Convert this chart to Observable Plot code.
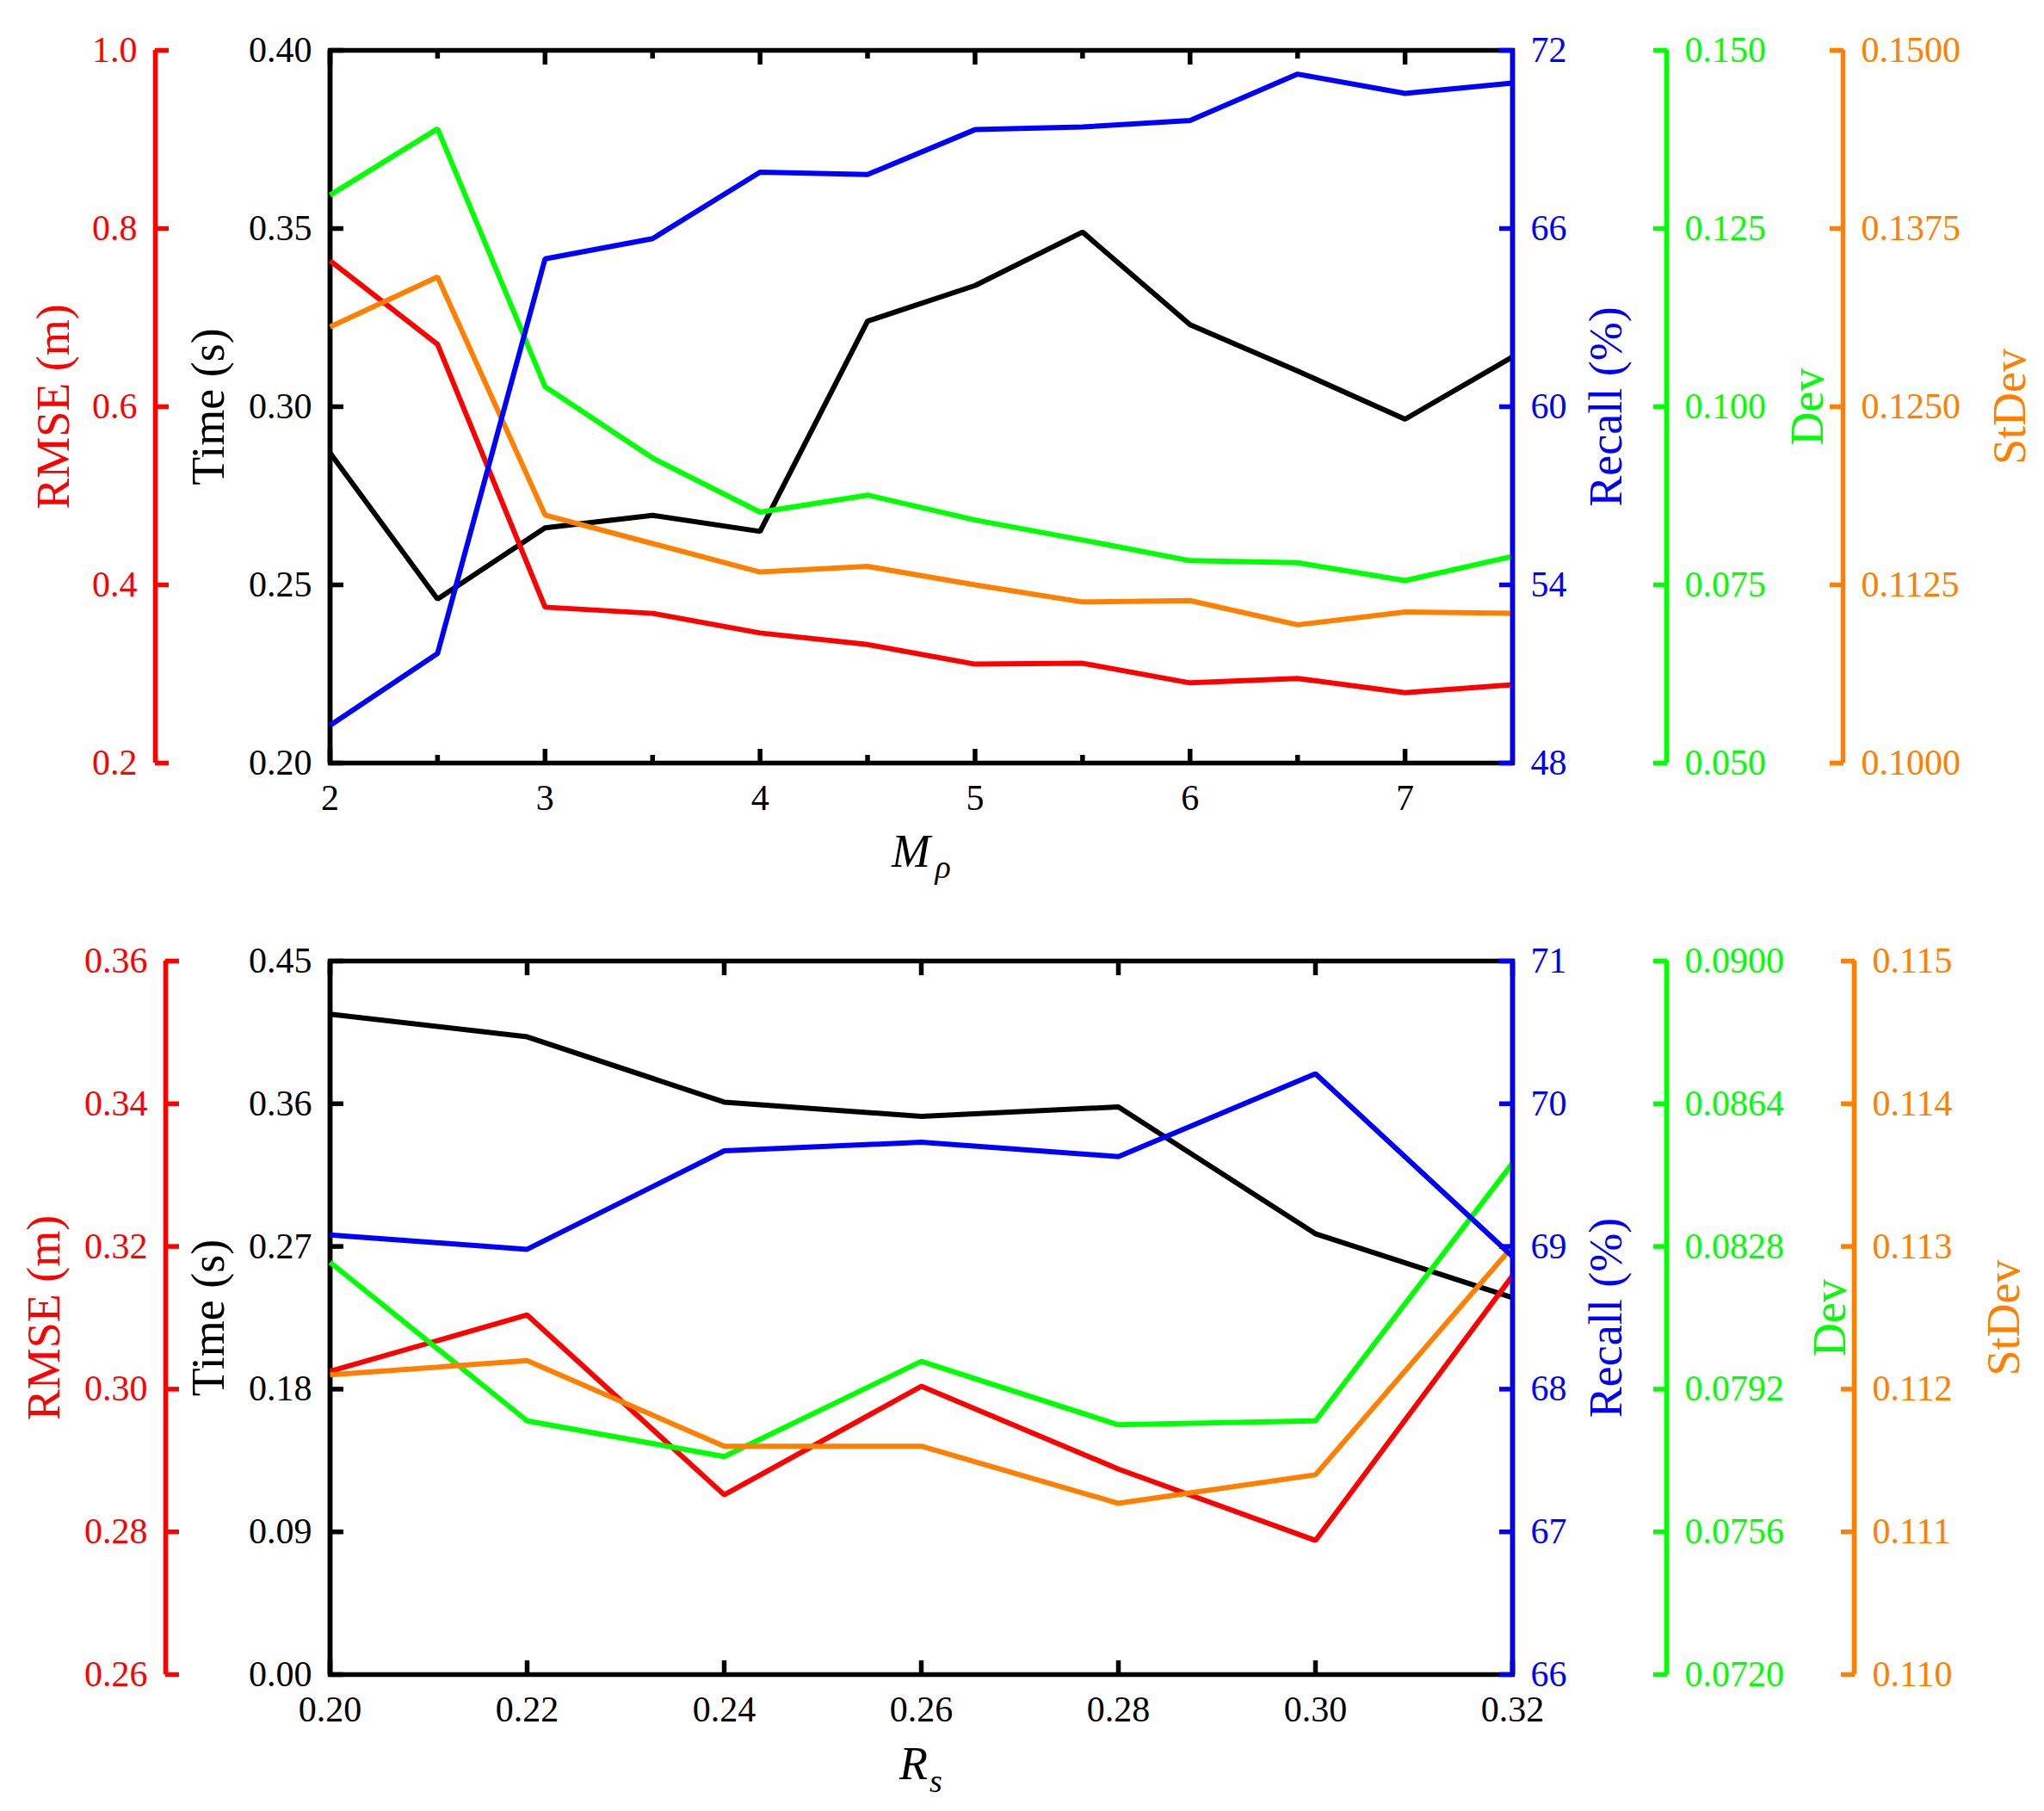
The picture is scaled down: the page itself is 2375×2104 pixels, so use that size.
<!DOCTYPE html>
<html><head><meta charset="utf-8">
<script src="https://cdn.jsdelivr.net/npm/d3@7"></script>
<script src="https://cdn.jsdelivr.net/npm/@observablehq/plot@0.6"></script>
<style>
html,body{margin:0;padding:0;background:#fff;}
#chart{position:relative;width:2375px;height:2104px;background:#fff;}
#chart svg{position:absolute;left:0;}
#chart svg text{font-family:'Liberation Serif','Times New Roman',serif !important;font-variant:normal !important;}
</style></head><body><div id="chart"></div>
<script>
// ---------- Top panel data (x = M_rho) ----------
const mRho      = [2, 2.5, 3, 3.5, 4, 4.5, 5, 5.5, 6, 6.5, 7, 7.5];
const timeTop   = [0.287, 0.246, 0.266, 0.2695, 0.265, 0.324, 0.334, 0.349, 0.323, 0.310, 0.2965, 0.314];
const rmseTop   = [0.764, 0.670, 0.375, 0.368, 0.346, 0.333, 0.311, 0.312, 0.290, 0.295, 0.279, 0.288];
const recallTop = [49.27, 51.69, 64.98, 65.66, 67.90, 67.82, 69.33, 69.42, 69.64, 71.20, 70.55, 70.90];
const devTop    = [0.1297, 0.1390, 0.1028, 0.0928, 0.0852, 0.0876, 0.0841, 0.0813, 0.0784, 0.0781, 0.0756, 0.0790];
const stdevTop  = [0.1306, 0.1341, 0.1174, 0.1154, 0.1134, 0.1138, 0.1125, 0.1113, 0.1114, 0.1097, 0.1106, 0.1105];

// ---------- Bottom panel data (x = R_s) ----------
const rs        = [0.20, 0.22, 0.24, 0.26, 0.28, 0.30, 0.32];
const timeBot   = [0.4165, 0.4022, 0.361, 0.352, 0.358, 0.278, 0.2377];
const rmseBot   = [0.3025, 0.3104, 0.2852, 0.3004, 0.2888, 0.2788, 0.3159];
const recallBot = [69.08, 68.98, 69.67, 69.73, 69.63, 70.21, 68.93];
const devBot    = [0.0824, 0.0784, 0.0775, 0.0799, 0.0783, 0.0784, 0.0849];
const stdevBot  = [0.1121, 0.1122, 0.1116, 0.1116, 0.1112, 0.1114, 0.1130];

// ---------- Ticks ----------
const topXTicks      = [2, 3, 4, 5, 6, 7];
const topXMinor      = [2.5, 3.5, 4.5, 5.5, 6.5];
const topTimeTicks   = [0.20, 0.25, 0.30, 0.35, 0.40];
const topRmseTicks   = [0.2, 0.4, 0.6, 0.8, 1.0];
const topRecallTicks = [48, 54, 60, 66, 72];
const topDevTicks    = [0.050, 0.075, 0.100, 0.125, 0.150];
const topStdevTicks  = [0.1000, 0.1125, 0.1250, 0.1375, 0.1500];

const botXTicks      = [0.20, 0.22, 0.24, 0.26, 0.28, 0.30, 0.32];
const botTimeTicks   = [0.00, 0.09, 0.18, 0.27, 0.36, 0.45];
const botRmseTicks   = [0.26, 0.28, 0.30, 0.32, 0.34, 0.36];
const botRecallTicks = [66, 67, 68, 69, 70, 71];
const botDevTicks    = [0.0720, 0.0756, 0.0792, 0.0828, 0.0864, 0.0900];
const botStdevTicks  = [0.110, 0.111, 0.112, 0.113, 0.114, 0.115];

// ---------- Styling / layout ----------
const W = 2375, H = 1052;
const FONT = "Liberation Serif";
const SW = 5.5, LW = 6, TICK = 16, MINOR = 9, TICKFS = 42, TITLEFS = 54, PAD = 21;
const ML = 383, MR = W - 1757;
const COL = {rmse: "#ff0000", time: "#000000", recall: "#0000ff", dev: "#00ff00", stdev: "#ff8000"};

const panels = [
  {
    top: 0, mt: 58, mb: 166,
    x: mRho, xDomain: [2, 7.5], xTicks: topXTicks, xMinor: topXMinor, xFmt: d3.format("d"),
    xTitle: ["M", "ρ"], xTitlePos: {main: [-12, 103], sub: [25, 121]},
    series: [
      {key: "time",   title: "Time (s)",   vals: timeTop,   domain: [0.20, 0.40], ticks: topTimeTicks,   fmt: d3.format(".2f"), side: "left",  axisDx: 0,    titleDx: -141},
      {key: "rmse",   title: "RMSE (m)",   vals: rmseTop,   domain: [0.2, 1.0],   ticks: topRmseTicks,   fmt: d3.format(".1f"), side: "left",  axisDx: -203, titleDx: -321},
      {key: "dev",    title: "Dev",        vals: devTop,    domain: [0.05, 0.15], ticks: topDevTicks,    fmt: d3.format(".3f"), side: "right", axisDx: 179,  titleDx: 343},
      {key: "stdev",  title: "StDev",      vals: stdevTop,  domain: [0.10, 0.15], ticks: topStdevTicks,  fmt: d3.format(".4f"), side: "right", axisDx: 384,  titleDx: 578},
      {key: "recall", title: "Recall (%)", vals: recallTop, domain: [48, 72],     ticks: topRecallTicks, fmt: d3.format("d"),   side: "right", axisDx: 0,    titleDx: 109}
    ]
  },
  {
    top: 1052, mt: 64, mb: 159,
    x: rs, xDomain: [0.20, 0.32], xTicks: botXTicks, xMinor: [], xFmt: d3.format(".2f"),
    xTitle: ["R", "s"], xTitlePos: {main: [-9, 104], sub: [17, 124]},
    series: [
      {key: "time",   title: "Time (s)",   vals: timeBot,   domain: [0, 0.45],        ticks: botTimeTicks,   fmt: d3.format(".2f"), side: "left",  axisDx: 0,    titleDx: -141},
      {key: "rmse",   title: "RMSE (m)",   vals: rmseBot,   domain: [0.26, 0.36],     ticks: botRmseTicks,   fmt: d3.format(".2f"), side: "left",  axisDx: -191, titleDx: -332},
      {key: "dev",    title: "Dev",        vals: devBot,    domain: [0.072, 0.090],   ticks: botDevTicks,    fmt: d3.format(".4f"), side: "right", axisDx: 179,  titleDx: 369},
      {key: "stdev",  title: "StDev",      vals: stdevBot,  domain: [0.110, 0.115],   ticks: botStdevTicks,  fmt: d3.format(".3f"), side: "right", axisDx: 397,  titleDx: 571},
      {key: "recall", title: "Recall (%)", vals: recallBot, domain: [66, 71],         ticks: botRecallTicks, fmt: d3.format("d"),   side: "right", axisDx: 0,    titleDx: 109}
    ]
  }
];

const chart = document.getElementById("chart");

for (const p of panels) {
  p.series.forEach((s, idx) => {
    const color = COL[s.key];
    const rows = p.x.map((xv, i) => ({x: xv, y: s.vals[i]}));
    const edge = s.side === "left" ? p.xDomain[0] : p.xDomain[1];
    const marks = [];
    if (idx === 0) {
      marks.push(
        Plot.frame({stroke: "#000", strokeWidth: SW}),
        Plot.axisX({anchor: "bottom", ticks: p.xTicks, tickSize: -TICK, tickFormat: () => "", strokeWidth: SW, label: null}),
        Plot.axisX({anchor: "top", ticks: p.xTicks, tickSize: -TICK, tickFormat: () => "", strokeWidth: SW, label: null}),
        Plot.axisX({anchor: "bottom", ticks: p.xTicks, tickSize: 0, tickPadding: 25, tickFormat: p.xFmt,
                    fontSize: TICKFS, fontFamily: FONT, fill: "#000", label: null}),
        Plot.text([p.xTitle[0]], {frameAnchor: "bottom", dx: p.xTitlePos.main[0], dy: p.xTitlePos.main[1],
                    fontSize: TITLEFS, fontFamily: FONT, fontStyle: "italic", textAnchor: "middle", lineAnchor: "middle", fill: "#000"}),
        Plot.text([p.xTitle[1]], {frameAnchor: "bottom", dx: p.xTitlePos.sub[0], dy: p.xTitlePos.sub[1],
                    fontSize: 38, fontFamily: FONT, fontStyle: "italic", textAnchor: "middle", lineAnchor: "middle", fill: "#000"})
      );
      if (p.xMinor.length) {
        marks.push(
          Plot.axisX({anchor: "bottom", ticks: p.xMinor, tickSize: -MINOR, tickFormat: () => "", strokeWidth: SW, label: null}),
          Plot.axisX({anchor: "top", ticks: p.xMinor, tickSize: -MINOR, tickFormat: () => "", strokeWidth: SW, label: null})
        );
      }
    }
    marks.push(Plot.ruleX([edge], {stroke: color, strokeWidth: SW, dx: s.axisDx}));
    marks.push(Plot.axisY({anchor: s.side, ticks: s.ticks, tickSize: -TICK, tickFormat: () => "",
                           color, strokeWidth: SW, dx: s.axisDx, label: null}));
    marks.push(Plot.axisY({anchor: s.side, ticks: s.ticks, tickSize: 0, tickPadding: PAD, tickFormat: s.fmt,
                           color, fontSize: TICKFS, fontFamily: FONT, dx: s.axisDx, label: null}));
    marks.push(Plot.text([s.title], {frameAnchor: s.side, dx: s.titleDx, rotate: -90, fill: color,
                                     fontSize: TITLEFS, fontFamily: FONT, textAnchor: "middle", lineAnchor: "middle"}));
    marks.push(Plot.line(rows, {x: "x", y: "y", stroke: color, strokeWidth: LW, strokeLinejoin: "miter", strokeLinecap: "butt"}));

    const svg = Plot.plot({
      width: W, height: H,
      marginLeft: ML, marginRight: MR, marginTop: p.mt, marginBottom: p.mb,
      x: {domain: p.xDomain, axis: null},
      y: {domain: s.domain, axis: null},
      style: {background: "transparent", fontFamily: FONT, fontSize: TICKFS + "px", overflow: "visible"},
      marks
    });
    svg.style.top = p.top + "px";
    svg.style.position = "absolute";
    svg.style.left = "0px";
    svg.style.maxWidth = "none";
    svg.querySelectorAll("text").forEach(t => { t.style.fontFamily = FONT; t.style.fontVariant = "normal"; });
    chart.appendChild(svg);
  });
}
</script>
</body></html>
